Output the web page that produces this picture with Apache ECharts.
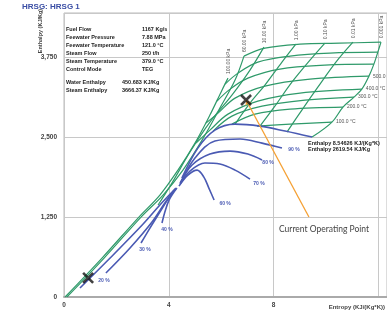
<!DOCTYPE html>
<html>
<head>
<meta charset="utf-8">
<script src="https://cdn.jsdelivr.net/npm/echarts@6/dist/echarts.min.js"></script>
<style>
  html, body { margin: 0; padding: 0; background: #fff; }
  #chart { width: 387px; height: 320px; }
</style>
</head>
<body>
<div id="chart"></div>
<script>
// Mollier (h-s) diagram for HRSG 1: entropy on x, enthalpy on y.
var xTicks = [0, 4, 8];
var yTicks = [0, 1250, 2500, 3750];

// Isobars, [entropy, enthalpy]; the label sits above the last point
var isobarNames = ['100.00 kPa', '60.00 kPa', '10.00 kPa', '1.00 kPa', '0.10 kPa', '0.01 kPa', '0.001 kPa'];
var isobar100 = [[0.04, 0], [1.45, 609], [2.86, 1250], [3.66, 1594], [4.35, 1984], [5.00, 2406], [5.57, 2844], [6.03, 3234], [6.26, 3422]];
var isobar60 = [[0.11, 0], [1.53, 609], [2.94, 1250], [3.78, 1594], [4.54, 1984], [5.27, 2453], [5.95, 2953], [6.53, 3391], [6.87, 3766]];
var isobar10 = [[3.59, 1438], [4.12, 1781], [4.81, 2266], [5.57, 2734], [6.41, 3156], [7.10, 3547], [7.63, 3906]];
var isobar1 = [[6.53, 2703], [7.10, 3031], [7.67, 3313], [8.32, 3672], [8.85, 3953]];
var isobar01 = [[7.48, 2672], [8.05, 2984], [8.70, 3359], [9.39, 3703], [9.96, 3969]];
var isobar001 = [[8.51, 2578], [9.08, 2922], [9.69, 3281], [10.38, 3672], [11.03, 3984]];
var isobar0001 = [[9.47, 2500], [10.23, 2734], [10.65, 2969], [11.07, 3125], [11.37, 3250], [11.64, 3453], [11.83, 3641], [11.98, 3828], [12.10, 3984]];

// Isotherms, [entropy, enthalpy]; the label sits right of the last point
var isothermNames = ['100.0 °C', '200.0 °C', '300.0 °C', '400.0 °C', '500.0'];
var isotherm100 = [[7.37, 2672], [8.63, 2703], [10.23, 2734]];
var isotherm200 = [[6.41, 2703], [7.29, 2859], [8.63, 2938], [10.65, 2969]];
var isotherm300 = [[5.69, 2594], [6.41, 2828], [7.56, 2984], [9.20, 3078], [11.07, 3125]];
var isotherm400 = [[5.04, 2406], [5.57, 2609], [6.26, 2859], [7.40, 3063], [9.01, 3188], [11.37, 3250]];
var isotherm500 = [[5.42, 2719], [5.88, 2875], [6.53, 3109], [7.67, 3297], [9.39, 3406], [11.64, 3453]];
var isotherm600 = [[5.84, 3063], [6.34, 3250], [7.02, 3422], [8.24, 3563], [9.96, 3625], [11.83, 3641]];
var isotherm700 = [[6.15, 3328], [6.64, 3500], [7.40, 3672], [8.63, 3766], [10.15, 3813], [11.98, 3828]];
var isotherm800 = [[6.87, 3766], [7.67, 3891], [9.01, 3953], [10.53, 3969], [12.10, 3984]];

// Saturated vapour and constant-quality lines, [entropy, enthalpy]
var qualityNames = ['20 %', '30 %', '40 %', '60 %', '70 %', '80 %', '90 %'];
var satVapor = [[4.50, 1859], [5.11, 2328], [5.76, 2609], [6.53, 2703], [7.48, 2672], [8.44, 2594], [9.47, 2500]];
var q10 = [[4.20, 1672], [3.66, 1438], [3.02, 1141], [1.76, 609], [0.61, 141]];
var q20 = [[4.24, 1688], [3.85, 1469], [3.36, 1172], [2.52, 766], [1.60, 375]];
var q30 = [[4.27, 1703], [3.97, 1531], [3.66, 1328], [3.28, 1078], [2.94, 844]];
var q40 = [[4.31, 1703], [4.01, 1516], [3.85, 1328], [3.74, 1156]];
var q60 = [[4.39, 1734], [4.73, 1906], [5.08, 1984], [5.34, 1875], [5.53, 1703], [5.73, 1516]];
var q70 = [[4.43, 1766], [4.81, 1969], [5.38, 2094], [5.95, 2078], [6.53, 1984], [7.10, 1844]];
var q80 = [[4.43, 1781], [4.89, 2063], [5.57, 2234], [6.34, 2281], [7.02, 2234], [7.56, 2141]];
var q90 = [[4.47, 1797], [5.00, 2172], [5.76, 2438], [6.72, 2469], [7.56, 2406], [8.32, 2328]];

// Operating points, [entropy, enthalpy]
var steamPoint = [6.95, 3080];
var waterPoint = [0.92, 300];
var pointerEnd = [9.35, 1250];

var infoLabels = ['Fuel Flow', 'Feewater Pressure', 'Feewater Temperature', 'Steam Flow', 'Steam Temperature', 'Control Mode'];
var infoValues = ['1167 Kg/s', '7.88 MPa', '121.0 °C', '250 t/h', '379.0 °C', 'TEG'];
var enthalpyLabels = ['Water Enthalpy', 'Steam Enthalpy'];
var enthalpyValues = ['450.683 KJ/Kg', '3666.37 KJ/Kg'];

var GREEN = '#2f9a6a';
var BLUE = '#4a5ab3';
var ORANGE = '#f5a033';
var FONT = 'Liberation Sans, Arial, sans-serif';

var chart = echarts.init(document.getElementById('chart'), null, { renderer: 'canvas' });

function line(data, color, width) {
  return {
    type: 'line', data: data, smooth: 0.35, symbol: 'none', silent: true,
    lineStyle: { color: color, width: width }, z: 3
  };
}

var isobars = [isobar100, isobar60, isobar10, isobar1, isobar01, isobar001, isobar0001];
var isotherms = [isotherm100, isotherm200, isotherm300, isotherm400, isotherm500, isotherm600, isotherm700, isotherm800];
var quality = [q20, q30, q40, q60, q70, q80, q90];
// label offsets (px) from each quality line's end
var qualityOffsets = [[-2, 8], [4, 7], [5, 7], [11, 4], [9, 5], [6, 3], [12, 2]];

var series = [];
isobars.forEach(function (d) { series.push(line(d, GREEN, 1.2)); });
isotherms.forEach(function (d) { series.push(line(d, GREEN, 1.2)); });
series.push(line(satVapor, BLUE, 1.6));
series.push(line(q10, BLUE, 1.6));
quality.forEach(function (d) { series.push(line(d, BLUE, 1.6)); });

// pointer from the caption to the current steam state
series.push({
  type: 'lines', coordinateSystem: 'cartesian2d', silent: true, z: 5,
  data: [{ coords: [pointerEnd, steamPoint] }],
  lineStyle: { color: ORANGE, width: 1.3, opacity: 1 },
  symbol: ['none', 'arrow'], symbolSize: 5
});
series.push({
  type: 'scatter', silent: true, z: 6,
  data: [steamPoint, waterPoint], symbol: 'path://M0,0 L10,10 M10,0 L0,10',
  symbolSize: 10, itemStyle: { color: 'none', borderColor: '#111', borderWidth: 2.6 }
});

chart.setOption({
  animation: false,
  grid: { left: 64, right: 0, top: 13, bottom: 23, show: true, borderColor: '#bbb', borderWidth: 1 },
  xAxis: {
    type: 'value', min: 0, max: 12.33, interval: 4,
    axisLine: { show: true, lineStyle: { color: '#aaa', width: 2 } },
    axisTick: { show: false },
    splitLine: { lineStyle: { color: '#c8c8c8' } },
    axisLabel: { color: '#444', fontSize: 6.5, fontWeight: 'bold', fontFamily: FONT, margin: 5,
      showMaxLabel: false, formatter: function (v) { return xTicks.indexOf(v) >= 0 ? String(v) : ''; } }
  },
  yAxis: {
    type: 'value', min: 0, max: 4440, interval: 1250,
    axisLine: { show: false }, axisTick: { show: false },
    splitLine: { lineStyle: { color: '#c8c8c8' } },
    axisLabel: { color: '#444', fontSize: 6.5, fontWeight: 'bold', fontFamily: FONT, margin: 7,
      showMaxLabel: false,
      formatter: function (v) { return yTicks.indexOf(v) >= 0 ? v.toLocaleString('en-US') : ''; } }
  },
  series: series
});

// Text: titles, info panel and curve labels placed from the data through the axes
function px(p) { return chart.convertToPixel({ gridIndex: 0 }, p); }
function txt(x, y, text, font, fill, extra) {
  var st = { text: text, fill: fill, font: font, verticalAlign: 'middle' };
  for (var k in extra) st[k] = extra[k];
  return { type: 'text', x: x, y: y, style: st, z: 10 };
}

var graphics = [
  txt(22, 7, 'HRSG: HRSG 1', 'bold 8px ' + FONT, '#3a4ea5', {}),
  { type: 'text', x: 40, y: 31, rotation: Math.PI / 2, z: 10, style: { text: 'Enthalpy (KJ/Kg)',
    fill: '#444', font: 'bold 5.5px ' + FONT, align: 'center', verticalAlign: 'middle' } },
  txt(385, 307, 'Entropy (KJ/(Kg*K))', 'bold 6px ' + FONT, '#444', { align: 'right' }),
  txt(279, 229, 'Current Operating Point', '8.5px Lato, sans-serif', '#444', {}),
  txt(308, 143, 'Enthalpy 8.54626 KJ/(Kg*K)', 'bold 5.5px ' + FONT, '#222', {}),
  txt(308, 149.5, 'Enthalpy 2619.54 KJ/Kg', 'bold 5.5px ' + FONT, '#222', {})
];
infoLabels.forEach(function (t, i) {
  graphics.push(txt(66, 29 + i * 8, t, 'bold 5.5px ' + FONT, '#222', {}));
  graphics.push(txt(142, 29 + i * 8, infoValues[i], 'bold 5.5px ' + FONT, '#222', {}));
});
enthalpyLabels.forEach(function (t, i) {
  graphics.push(txt(66, 82 + i * 8, t, 'bold 5.5px ' + FONT, '#222', {}));
  graphics.push(txt(122, 82 + i * 8, enthalpyValues[i], 'bold 5.5px ' + FONT, '#222', {}));
});
isobars.forEach(function (d, i) {
  var p = px(d[d.length - 1]);
  graphics.push({ type: 'text', x: p[0] + 1, y: p[1] - 4, rotation: Math.PI / 2, z: 10,
    style: { text: isobarNames[i], fill: '#555', font: '5px ' + FONT, align: 'left', verticalAlign: 'middle' } });
});
isothermNames.forEach(function (name, i) {
  var d = isotherms[i];
  var p = px(d[d.length - 1]);
  graphics.push(txt(p[0] + 4, p[1], name, '5px ' + FONT, '#555', {}));
});
quality.forEach(function (d, i) {
  var p = px(d[d.length - 1]);
  graphics.push(txt(p[0] + qualityOffsets[i][0], p[1] + qualityOffsets[i][1], qualityNames[i],
    'bold 5px ' + FONT, BLUE, { align: 'center' }));
});
chart.setOption({ graphic: graphics });
</script>
</body>
</html>
